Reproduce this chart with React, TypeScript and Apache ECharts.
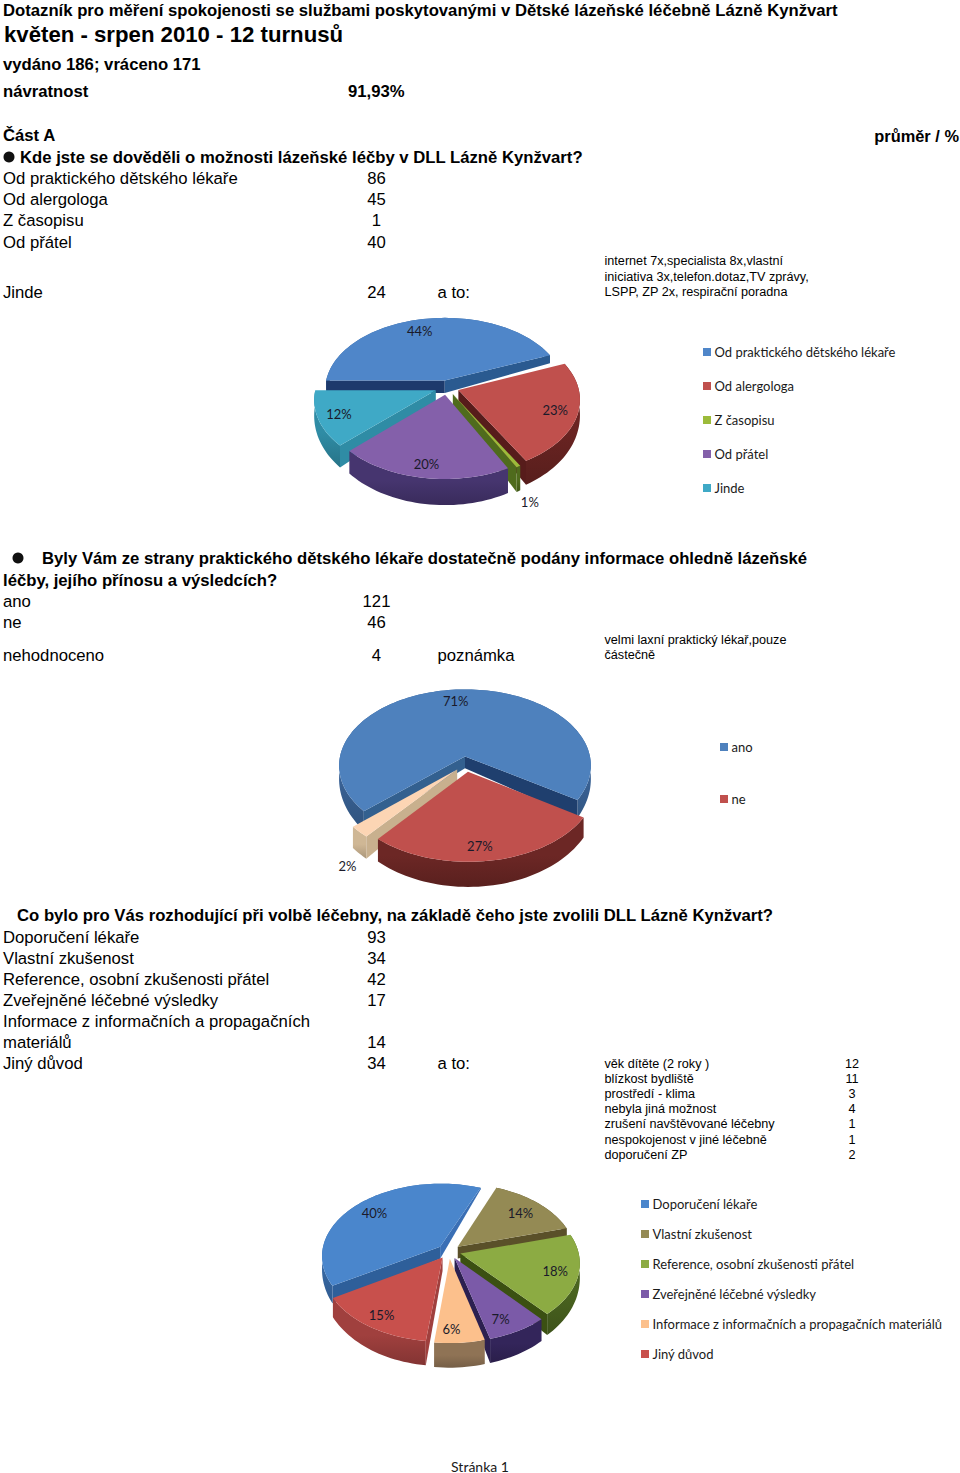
import React, { useEffect, useRef } from "react";
import * as echarts from "echarts";

// ---------- data ----------
const q1Categories = ["Od praktického dětského lékaře", "Od alergologa", "Z časopisu", "Od přátel", "Jinde"];
const q1Values = [86, 45, 1, 40, 24];
const q1Percent = ["44%", "23%", "1%", "20%", "12%"];
const q1Note = ["internet 7x,specialista 8x,vlastní", "iniciativa 3x,telefon.dotaz,TV zprávy,", "LSPP, ZP 2x, respirační poradna"];

const q2Categories = ["ano", "ne", "nehodnoceno"];
const q2Values = [121, 46, 4];
const q2Percent = ["71%", "27%", "2%"];
const q2Legend = ["ano", "ne"];
const q2Note = ["velmi laxní praktický lékař,pouze", "částečně"];

const q3Categories = ["Doporučení lékaře", "Vlastní zkušenost", "Reference, osobní zkušenosti přátel", "Zveřejněné léčebné výsledky", "Informace z informačních a propagačních materiálů", "Jiný důvod"];
const q3Values = [93, 34, 42, 17, 14, 34];
const q3Percent = ["40%", "14%", "18%", "7%", "6%", "15%"];
const q3ReasonNames = ["věk dítěte (2 roky )", "blízkost bydliště", "prostředí - klima", "nebyla jiná možnost", "zrušení navštěvované léčebny", "nespokojenost v jiné léčebně", "doporučení ZP"];
const q3ReasonValues = [12, 11, 3, 4, 1, 1, 2];

// ---------- pie styles ----------
const pies = [
  {
    values: q1Values, percent: q1Percent, start: 270, cx: 447, cy: 387.5, rx: 120, ry: 72, k: 0.123, e: 0.1, dA: 13.5, dB: 11.5,
    top: ["#4f86c9", "#c0504d", "#9cbb3a", "#8460aa", "#3fa9c6"],
    outer: ["#3a6aa3", "#6a2422", "#4f6b1d", "#46356f", "#2f8ca5"],
    radial: ["#1d3a6c", "#571c1b", "#3f5518", "#3d2e5e", "#2f8ca5"],
    radialEnd: ["#2a5a90", "#571c1b", "#4f6b1d", "#3d2e5e", "#2f8ca5"],
    labelR: [0.91, 0.92, 1.45, 0.95, 0.93],
    labelDA: [-5, 0, 5, 0, 0],
  },
  {
    values: q2Values, percent: q2Percent, start: 228, cx: 466, cy: 764, rx: 126.5, ry: 77, k: 0.123, e: 0.1, dA: 13, dB: 11,
    top: ["#4e81bd", "#c0504d", "#fcd5b4"],
    outer: ["#3b659a", "#6c2725", "#cfb795"],
    radial: ["#33608f", "#571c1b", "#c8b08e"],
    radialEnd: ["#1f3f6e", "#571c1b", "#c8b08e"],
    labelR: [0.92, 0.95, 1.395],
    labelDA: [-1, 3, -8.5],
  },
  {
    values: q3Values, percent: q3Percent, start: 239, cx: 449, cy: 1251.5, rx: 118, ry: 72, k: 0.123, e: 0.1, dA: 12.5, dB: 11,
    top: ["#4a86cc", "#948a54", "#8cab43", "#7b5aa8", "#fcc08c", "#c8504c"],
    outer: ["#3a6fae", "#5f562f", "#4a6420", "#33255a", "#8f7355", "#a0403e"],
    radial: ["#2e5f9a", "#5a5029", "#3b5012", "#2c2050", "#8f7355", "#a0403e"],
    radialEnd: ["#3a6fb5", "#5a5029", "#3b5012", "#2c2050", "#8f7355", "#a0403e"],
    labelR: [0.89, 0.87, 0.91, 0.93, 0.95, 0.95],
    labelDA: [0, 0, 0, 3, 3, 0],
  },
];

const rad = (d: number) => (d * Math.PI) / 180;

function shade(hex: string, f: number) {
  const n = parseInt(hex.slice(1), 16);
  const c = [(n >> 16) & 255, (n >> 8) & 255, n & 255].map((x) => Math.min(255, Math.round(x * f)));
  return `rgb(${c[0]},${c[1]},${c[2]})`;
}

function pieSeries(p: any) {
  const total = p.values.reduce((a: number, b: number) => a + b, 0);
  const project = (u: number, v: number, lower = false) => {
    const s = 1 / (1 - p.k * v);
    return [p.cx + p.rx * u * s, p.cy + p.ry * v * s + (lower ? p.dA + p.dB * v : 0)];
  };
  let cum = p.start;
  const spans = p.values.map((val: number) => {
    const a0 = cum;
    cum += (val / total) * 360;
    return [a0, cum];
  });
  const depthOf = (i: number) => -Math.cos(rad((spans[i][0] + spans[i][1]) / 2));
  const order = spans.map((_: any, i: number) => i).sort((a: number, b: number) => depthOf(a) - depthOf(b));

  return {
    type: "custom",
    coordinateSystem: "none",
    silent: true,
    data: p.values.map((v: number) => ({ value: [v] })),
    renderItem: (params: any, api: any) => {
      const i = params.dataIndex;
      const sweep = (api.value(0) / total) * 360;
      const a0 = spans[i][0];
      const a1 = a0 + sweep;
      const mid = rad((a0 + a1) / 2);
      const ou = p.e * Math.sin(mid);
      const ov = -p.e * Math.cos(mid);
      const arc: number[][] = [];
      const n = Math.max(2, Math.ceil(sweep / 2));
      for (let j = 0; j <= n; j++) {
        const t = rad(a0 + (sweep * j) / n);
        arc.push([ou + Math.sin(t), ov - Math.cos(t)]);
      }
      const topArc = arc.map(([u, v]) => project(u, v));
      const botArc = arc.map(([u, v]) => project(u, v, true));
      const apexT = project(ou, ov);
      const apexB = project(ou, ov, true);
      const rank = order.indexOf(i) * 10;
      const children: any[] = [];
      children.push({
        type: "polygon", z2: rank + 1,
        shape: { points: [...topArc, ...botArc.slice().reverse()] },
        style: {
          fill: new echarts.graphic.LinearGradient(0, 0, 0, 1, [
            { offset: 0.55, color: p.outer[i] },
            { offset: 1, color: shade(p.outer[i], 0.82) },
          ]),
        },
      });
      if (Math.sin(rad(a0)) < 0) {
        children.push({
          type: "polygon", z2: rank + 2,
          shape: { points: [apexT, topArc[0], botArc[0], apexB] },
          style: { fill: p.radial[i] },
        });
      }
      if (Math.sin(rad(a1)) > 0) {
        children.push({
          type: "polygon", z2: rank + 2,
          shape: { points: [apexT, topArc[n], botArc[n], apexB] },
          style: { fill: p.radialEnd[i] },
        });
      }
      children.push({
        type: "polygon", z2: rank + 3,
        shape: { points: [apexT, ...topArc] },
        style: { fill: p.top[i] },
      });
      const lr = p.labelR[i];
      const la = mid + rad(p.labelDA[i]);
      const lp = project(lr * Math.sin(la), -lr * Math.cos(la));
      children.push({
        type: "text", z2: 500,
        x: lp[0], y: lp[1],
        style: {
          text: p.percent[i], fontFamily: "Lato", fontSize: 13, fill: "#1a1a2a",
          textAlign: "center", textVerticalAlign: "middle",
        },
      });
      return { type: "group", children };
    },
  };
}

// ---------- page text ----------
const ARIAL = "Liberation Sans";
const LEG = "Lato";
const BODY = 16.7;
const NOTE = 12.65;
const VALX = 376.5;
const txt = (text: string, x: number, y: number, size = BODY, bold = false, align = "left", family = ARIAL, fill = "#000") => ({
  type: "text", x, y,
  style: { text, fontFamily: family, fontSize: size, fontWeight: bold ? "bold" : "normal", fill, textAlign: align, textVerticalAlign: "middle" },
});
const legend = (names: string[], ys: number[], x: number, colors: string[]) =>
  names.flatMap((n, i) => [
    { type: "rect", shape: { x, y: ys[i] - 4, width: 8, height: 8 }, style: { fill: colors[i] } },
    txt(n, x + 11.5, ys[i], 13, false, "left", LEG, "#1a1a1a"),
  ]);

const q1Y = [178, 199.5, 220.5, 242, 292];
const q2Y = [601, 622, 655];
const q3Y = [937, 958, 979, 1000, 1042, 1063];
const q3Text = ["Doporučení lékaře", "Vlastní zkušenost", "Reference, osobní zkušenosti přátel", "Zveřejněné léčebné výsledky", "materiálů", "Jiný důvod"];
const noteY3 = [1064, 1079, 1094, 1109, 1124, 1140, 1155];

const graphicEls: any[] = [
  txt("Dotazník pro měření spokojenosti se službami poskytovanými v Dětské lázeňské léčebně Lázně Kynžvart", 3, 10, BODY, true),
  txt("květen - srpen 2010 - 12 turnusů", 4, 34, 22.2, true),
  txt("vydáno 186; vráceno 171", 3, 64, BODY, true),
  txt("návratnost", 3, 91, BODY, true),
  txt("91,93%", 348, 91, BODY, true),
  txt("Část A", 3, 135.5, BODY, true),
  txt("průměr / %", 959, 136, 16.4, true, "right"),
  { type: "circle", shape: { cx: 9, cy: 157, r: 5.5 }, style: { fill: "#111" } },
  txt("Kde jste se dověděli o možnosti lázeňské léčby v DLL Lázně Kynžvart?", 20, 157, BODY, true),
  ...q1Categories.flatMap((c, i) => [txt(c, 3, q1Y[i]), txt(String(q1Values[i]), VALX, q1Y[i], BODY, false, "center")]),
  txt("a to:", 437.5, 292),
  ...q1Note.map((t, i) => txt(t, 604.5, 261 + i * 15.5, NOTE)),
  ...legend(q1Categories, [352, 386, 420, 454, 488], 703, pies[0].top),

  { type: "circle", shape: { cx: 18, cy: 558, r: 5.5 }, style: { fill: "#111" } },
  txt("Byly Vám ze strany praktického dětského lékaře dostatečně podány informace ohledně lázeňské", 42, 558.5, BODY, true),
  txt("léčby, jejího přínosu a výsledcích?", 3, 580, BODY, true),
  ...q2Categories.flatMap((c, i) => [txt(c, 3, q2Y[i]), txt(String(q2Values[i]), VALX, q2Y[i], BODY, false, "center")]),
  txt("poznámka", 437.5, 655),
  ...q2Note.map((t, i) => txt(t, 604.5, 639.5 + i * 15.5, NOTE)),
  ...legend(q2Legend, [747, 799], 720, pies[1].top),

  txt("Co bylo pro Vás rozhodující při volbě léčebny, na základě čeho jste zvolili DLL Lázně Kynžvart?", 17, 915, BODY, true),
  txt("Informace z informačních a propagačních", 3, 1021),
  ...q3Text.flatMap((c, i) => [txt(c, 3, q3Y[i]), txt(String(q3Values[i]), VALX, q3Y[i], BODY, false, "center")]),
  txt("a to:", 437.5, 1063),
  ...q3ReasonNames.flatMap((t, i) => [txt(t, 604.5, noteY3[i], NOTE), txt(String(q3ReasonValues[i]), 852, noteY3[i], NOTE, false, "center")]),
  ...legend(q3Categories, [1204, 1234, 1264, 1294, 1324, 1354], 641, pies[2].top),

  txt("Stránka 1", 480, 1466, 14, false, "center", LEG, "#1a1a1a"),
];

export default function App() {
  const ref = useRef<HTMLDivElement>(null);
  useEffect(() => {
    const chart = echarts.init(ref.current!, null, { renderer: "svg" });
    chart.setOption({
      animation: false,
      backgroundColor: "#fff",
      graphic: { elements: graphicEls },
      series: pies.map(pieSeries),
    });
    return () => chart.dispose();
  }, []);
  return <div ref={ref} style={{ position: "absolute", left: 0, top: 0, width: 960, height: 1473 }} />;
}
